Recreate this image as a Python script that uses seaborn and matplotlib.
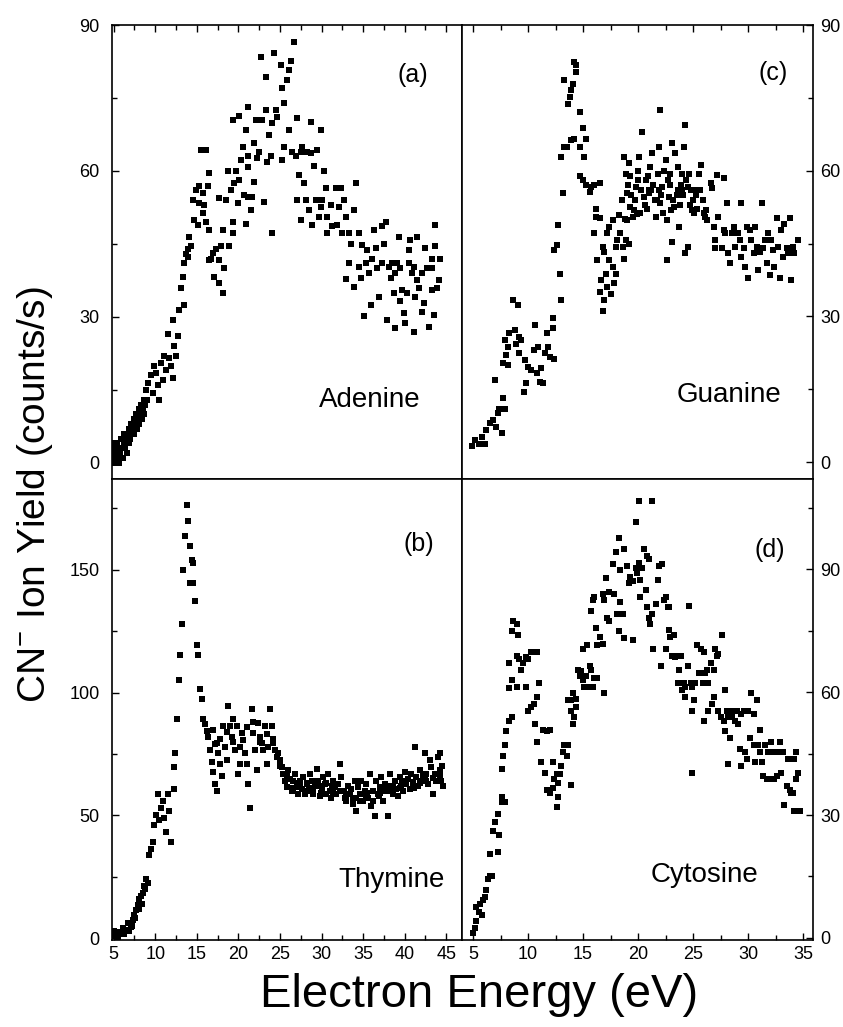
import matplotlib
matplotlib.use("Agg")
import matplotlib.pyplot as plt
from matplotlib.ticker import MultipleLocator
import pandas as pd
import seaborn as sns

# CN- ion yield vs. incident electron energy for the four nucleobases
adenine_energy = [
    4.8, 4.9, 5.0, 5.1, 5.2, 5.3, 5.4, 5.5, 5.6, 5.7, 5.8, 5.9, 6.0, 6.1, 6.2, 6.3, 6.4, 6.5, 6.6, 6.7,
    6.8, 6.9, 7.0, 7.1, 7.2, 7.3, 7.4, 7.5, 7.6, 7.7, 7.8, 7.9, 8.0, 8.1, 8.2, 8.3, 8.4, 8.5, 8.6, 8.7,
    8.8, 8.9, 9.0,
    9.1, 9.7, 10.1, 10.7, 11.3, 11.7, 12.1, 11.5, 12.7, 12.1,
    12.9, 13.5, 13.1, 13.3, 13.5, 13.9, 14.3, 14.1, 14.5, 14.9,
    15.3, 15.7, 15.3, 15.7, 16.1, 16.5, 15.5, 16.1, 16.5, 16.5,
    16.9, 17.1, 17.7, 18.1, 17.7, 17.9, 18.1, 17.7, 18.5, 18.7,
    18.9, 19.3, 19.3, 19.5, 19.9, 20.1, 20.3, 20.5, 19.3, 20.1,
    21.1, 20.9, 21.1, 21.1, 21.1, 21.7, 21.5, 20.9, 21.9, 21.9,
    22.3, 22.1, 22.7, 22.9, 23.1, 23.3, 23.3, 23.5, 23.7, 24.1,
    24.3, 24.1, 24.5, 25.1, 25.3, 25.5, 25.5, 25.3, 25.9, 26.1,
    26.3, 26.7, 26.1, 26.5, 27.1, 27.1, 27.3, 27.5, 27.7, 27.9,
    28.1, 28.7, 28.7, 28.5, 28.9, 29.3, 29.5, 29.9, 30.3, 29.9,
    29.7, 30.5, 30.7, 30.7, 31.3, 31.7, 32.1, 32.3, 32.5, 32.7,
    32.9, 33.3, 33.9, 34.1, 32.9, 33.3, 33.9, 34.5, 34.9, 34.5,
    35.1, 35.5, 35.7, 35.9, 36.1, 36.3, 36.5, 36.9, 37.3, 37.7,
    37.3, 38.1, 37.9, 38.5, 38.7, 38.9, 38.9, 39.3, 39.5, 39.7,
    39.9, 40.1, 40.5, 40.5, 40.7, 41.1, 41.1, 41.5, 41.5, 41.7,
    42.1, 42.3, 42.5, 42.9, 43.3, 43.3, 43.3, 43.5, 43.7, 43.7, 44.1,
    9.5, 9.9, 10.3, 10.5, 10.9, 11.1, 11.9, 12.3, 12.5, 13.7,
    14.0, 14.7, 15.1, 15.9, 16.3, 16.7, 17.3, 18.3, 19.1, 19.7,
    20.7, 22.5, 23.9, 24.7, 26.9, 27.5, 28.3, 29.1, 30.1, 31.1,
    31.9, 33.5, 34.7, 35.3, 36.7, 37.5, 38.3, 39.1, 40.3, 41.3,
    42.7, 43.9, 44.3, 42.1, 40.9, 39.5,
]
adenine_yield = [
    2, 4, 1, 3, 0, 2, 4, 1, 3, 0, 2, 5, 3, 1, 4, 6, 3, 5, 2, 6,
    4, 7, 5, 8, 6, 7, 9, 6, 8, 10, 7, 9, 11, 8, 10, 12, 9, 11, 13, 10,
    12, 15, 13,
    16.4, 14.3, 18.4, 20.5, 19, 21.5, 17.4, 26.6, 26, 29.4,
    31.4, 32.5, 35.9, 38.3, 41, 42.4, 44.5, 46.5, 54, 56,
    57, 55.4, 53.4, 51.3, 49.6, 47.9, 64.3, 64.3, 59.5, 41.7,
    43.1, 38.3, 36.9, 34.9, 41.7, 44.5, 47.9, 54.4, 54, 59.9,
    44.5, 47.2, 49.6, 57.5, 53.4, 58.2, 62.3, 65, 70.5, 71.2,
    73.2, 68.4, 63, 60.9, 54.7, 54.7, 52, 49.2, 57.8, 65.7,
    62.6, 70.5, 83.5, 70.5, 53.7, 79.4, 72.5, 61.9, 67.4, 47.2,
    84.2, 69.8, 72.5, 81.8, 77, 73.9, 65, 62.3, 78.7, 80.8,
    82.5, 86.6, 68.4, 64, 70.8, 54, 59.2, 49.9, 65, 57.5,
    54, 70.1, 63.6, 52, 48.9, 54, 64.3, 68.4, 59.9, 52.7,
    50.6, 56.4, 50.6, 47.2, 48.6, 56.4, 52.7, 56.4, 47.2, 54,
    50.6, 47.2, 52, 57.5, 37.9, 41, 36.2, 47.2, 44.8, 40.3,
    30.1, 43.8, 39, 32.5, 42, 47.9, 44.1, 34.2, 48.6, 49.6,
    41, 40.3, 29.4, 41, 34.9, 27.7, 39, 46.5, 33.2, 35.5,
    30.8, 28.7, 43.8, 41, 45.8, 40.3, 27, 46.5, 37.6, 35.9,
    31.1, 32.9, 44.1, 28, 42, 35.5, 40, 30.4, 44.5, 48.9, 37.6,
    18, 20, 16, 13, 17, 22, 20, 24, 22, 43,
    44, 50, 49, 53, 57, 42, 44, 40, 56, 60,
    55, 64, 63, 71, 63, 64, 64, 61, 54, 53,
    49, 45, 38, 41, 40, 45, 38, 41, 35, 34,
    40, 36, 42, 39, 39, 40,
]

thymine_energy = [
    4.9, 5.3, 5.7, 6.1, 6.5, 6.7, 7.1, 7.3, 7.5, 7.7, 7.9, 8.1, 8.3, 8.5, 8.7, 8.9, 9.1,
    5.0, 5.5, 5.9, 6.3, 6.9, 7.2, 7.6, 8.0, 8.4, 8.8,
    9.3, 9.5, 9.7, 9.9, 10.1, 10.3, 10.5, 10.7, 10.9, 11.1,
    11.3, 11.7, 11.9, 11.5, 12.2, 12.2, 12.4, 12.6, 12.8, 13.0,
    13.2, 13.4, 13.6, 13.8, 14.0, 14.2, 14.4, 14.2, 14.6, 14.8,
    14.6, 15.0, 15.2, 15.4, 15.6, 15.8, 16.0, 16.2, 16.4, 16.6,
    16.8, 17.0, 17.2, 17.4, 17.0, 17.4, 17.6, 17.8, 18.0, 18.2,
    18.4, 18.6, 18.8, 19.0, 19.2, 19.4, 19.6, 19.8, 20.0, 20.2,
    20.4, 20.6, 20.8, 21.0, 21.2, 21.4, 21.6, 21.8, 22.0, 22.2,
    22.4, 22.6, 22.8, 23.0, 23.2, 23.4, 23.6, 23.8, 24.0, 24.2,
    24.4, 24.6, 24.8, 25.0, 25.2, 25.4, 25.6, 25.8, 26.0, 26.2,
    26.4, 26.6, 26.8, 27.0, 27.2, 27.4, 27.6, 27.8, 28.0, 28.2,
    28.4, 28.6, 28.8, 29.0, 29.2, 29.4, 29.6, 29.8, 30.0, 30.2,
    30.4, 30.6, 30.8, 31.0, 31.2, 31.4, 31.6, 31.8, 32.0, 32.2,
    32.4, 32.6, 32.8, 33.0, 33.2, 33.4, 33.6, 33.8, 34.0, 34.2,
    34.4, 34.6, 34.8, 35.0, 35.2, 35.4, 35.6, 35.8, 36.0, 36.2,
    36.4, 36.6, 36.8, 37.0, 37.2, 37.4, 37.6, 37.8, 38.0, 38.2,
    38.4, 38.6, 38.8, 39.0, 39.2, 39.4, 39.6, 39.8, 40.0, 40.2,
    40.4, 40.6, 40.8, 41.0, 41.2, 41.4, 41.6, 41.8, 42.0, 42.2,
    42.4, 42.6, 42.8, 43.0, 43.2, 43.4, 43.6, 43.8, 44.0, 44.2, 44.4, 44.6, 44.2,
    17.2, 17.8, 18.6, 19.4, 20.2, 21.0, 21.8, 22.6, 23.4, 24.2, 25.0, 25.8, 26.6, 27.4, 28.2, 29.0, 29.8,
    30.6, 31.4, 32.2, 33.0, 33.8, 34.6, 35.4, 36.2, 37.0, 37.8, 38.6, 39.4, 40.2, 41.0, 41.8, 42.6, 43.4, 44.2,
    27.1, 28.5, 29.9, 31.3, 32.7, 34.1, 35.5, 36.9, 38.3, 39.7, 41.1, 42.5, 43.9, 44.5,
]
thymine_yield = [
    1, 2.5, 1.8, 3.9, 3.2, 6, 4.6, 7.3, 9.4, 11.5, 13.6, 15.7, 17, 18.4, 21.2, 24, 22.6,
    3, 0.5, 2.5, 1.5, 3, 5, 8, 12, 14, 20,
    33.7, 36.4, 39.2, 46.1, 50.3, 58.6, 48.2, 53, 55.8, 48.9,
    43.4, 51.7, 39.2, 58.6, 60.7, 69.7, 75.2, 89.1, 105, 115.4,
    127.8, 150, 163.8, 176.3, 170, 159.7, 154.2, 144.5, 152.8, 137.5,
    144.5, 119.5, 115.4, 101.5, 97.4, 89.1, 87, 84.2, 82.1, 76.6,
    71.7, 67.6, 62.7, 60, 84.9, 79.4, 75.2, 71, 66.2, 86.3,
    78, 72.4, 94.6, 86.3, 82.1, 89.1, 76.6, 86.3, 66.9, 71,
    83.5, 80.8, 75.2, 71, 62.7, 53, 93.2, 83.5, 76.6, 68.3,
    87.7, 82.1, 79.4, 76.6, 86.3, 71, 78, 93.2, 86.3, 79.4,
    76.6, 73.8, 75.2, 72.4, 69.7, 66.9, 64.1, 61.4, 68.3, 64.8,
    60, 64.1, 66.9, 61.4, 58.6, 64.1, 60.7, 65.5, 58.6, 62.7,
    60, 66.9, 64.1, 58.6, 62, 69, 64.1, 57.9, 60.7, 65.5,
    62.7, 58.6, 66.9, 60, 57.2, 64.1, 61.4, 58.6, 62.7, 71,
    65.5, 60, 57.2, 55.8, 62, 58.6, 60.7, 54.4, 64.1, 51.7,
    61.4, 58.6, 64.1, 55.8, 60, 62.7, 57.2, 66.9, 53.7, 60,
    49.6, 64.1, 58.6, 61.4, 65.5, 55.8, 62.7, 60, 49.6, 66.9,
    62, 58.6, 64.1, 60.7, 57.9, 65.5, 62, 60, 67.6, 62.7,
    64.8, 60.7, 66.9, 63.4, 78, 65.5, 62, 68.3, 64.1, 66.2,
    75.2, 66.9, 62.7, 72.4, 69.7, 58.6, 66.9, 64.1, 73.8, 68.3, 64.1, 62, 75.2,
    79, 81, 84, 80, 78, 86, 88, 80, 83, 81, 70, 66, 61, 62, 63, 60, 62,
    63, 59, 60, 58, 57, 56, 58, 56, 59, 61, 62, 61, 63, 62, 63, 64, 65, 66,
    63, 61, 59, 62, 60, 57, 59, 58, 60, 64, 61, 65, 67, 70,
]

guanine_energy = [
    4.9, 5.2, 5.5, 5.8, 6.1, 6.2, 6.5, 6.8, 7.1, 7.3, 7.6, 7.4, 7.7, 7.9, 7.0, 7.7, 8.2, 7.9, 8.3, 8.6,
    8.8, 9.1, 9.2, 8.9, 9.4, 9.2, 8.0, 8.2, 9.7, 10.0,
    9.8, 10.3, 10.5, 10.6, 10.8, 10.9, 11.2, 11.1, 11.4, 11.7,
    11.5, 11.8, 12.0, 12.4, 12.3, 12.3, 9.6, 12.4, 12.6, 12.7,
    12.9, 13.0, 13.2, 13.0, 13.3, 13.3, 13.6, 13.8, 13.9, 14.1,
    14.2, 14.4, 14.4, 13.5, 13.9, 14.2, 14.7, 15.0, 15.3, 14.7,
    15.1, 14.7, 15.0, 15.3, 15.6, 15.7, 16.0, 16.5, 16.2, 16.0,
    16.2, 16.5, 16.3, 16.8, 16.9, 16.5, 16.8, 16.6, 16.9, 17.1,
    17.2, 17.4, 17.5, 17.2, 17.4, 17.7, 17.7, 17.8, 18.0, 18.0,
    18.1, 18.3, 18.4, 18.6, 18.7, 18.9, 19.0, 19.2, 18.7, 18.9,
    19.2, 19.3, 19.0, 19.3, 19.5, 19.7, 19.8, 20.0, 20.1, 20.4,
    20.2, 20.5, 20.7, 20.8, 21.0, 21.1, 21.3, 21.5, 21.6, 21.8,
    21.9, 22.0, 21.9, 22.0, 22.2, 22.3, 22.5, 22.6, 22.6, 22.8,
    22.9, 23.1, 23.1, 23.3, 23.4, 23.6, 23.6, 23.7, 23.9, 24.0,
    24.2, 24.3, 24.3, 24.5, 24.5, 24.6, 24.8, 24.9, 25.1, 25.2,
    25.4, 25.5, 25.7, 25.9, 26.0, 26.1, 26.3, 26.6, 26.7, 26.9,
    27.0, 27.0, 27.2, 27.3, 27.6, 27.8, 27.8, 27.9, 28.1, 28.2,
    28.4, 28.5, 28.7, 28.8, 29.1, 29.3, 29.4, 29.4, 29.6, 29.7,
    29.9, 30.0, 30.2, 30.3, 30.5, 30.6, 30.8, 30.9, 31.1, 31.3,
    31.4, 31.5, 31.7, 31.8, 32.0, 32.1, 32.3, 32.4, 32.6, 32.7,
    32.9, 33.0, 33.2, 33.3, 33.5, 33.6, 33.8, 33.9, 34.1, 34.2, 34.5,
    18.5, 19.1, 19.6, 20.3, 20.9, 21.4, 22.1, 22.7, 23.2, 23.8,
    24.4, 25.0, 25.6, 26.2, 18.8, 19.9, 21.2, 22.4, 23.5, 24.7,
    19.4, 20.6, 21.7, 22.9, 24.1, 25.3, 20.0, 21.0, 23.0, 24.0,
]
guanine_yield = [
    3.2, 4.5, 3.8, 5.2, 3.8, 6.6, 8, 8.6, 7.3, 10, 5.9, 11, 13.1, 11, 16.9, 20.3, 20, 25.1, 26.5, 33.4,
    27.2, 32.3, 25.8, 24.4, 25.1, 22.4, 22, 23.7, 21, 19.6,
    16.2, 18.9, 23.1, 28.2, 18.3, 23.7, 19.3, 16.5, 16.2, 26.5,
    22.4, 23.7, 21.7, 21.3, 27.5, 29.6, 14.5, 43.7, 44.7, 48.8,
    38.8, 33.4, 55.3, 62.9, 64.9, 78.7, 73.8, 75.2, 76.6, 77.9,
    82.4, 80.3, 81.7, 64.9, 66.3, 66.6, 64.9, 68.7, 66.6, 72.1,
    62.9, 58.8, 58.1, 57, 55.7, 56.7, 57, 57.4, 52.2, 47.1,
    50.5, 50.2, 41.6, 44.3, 43.3, 35.1, 31, 37.5, 33.4, 38.8,
    36.1, 41.6, 34.7, 47.1, 48.5, 49.8, 40.2, 36.8, 38.8, 44.3,
    45.7, 50.9, 47.1, 44.3, 41.9, 45.7, 49.8, 45, 62.9, 59.4,
    61.5, 58.8, 55.3, 52.6, 50.5, 53.9, 56.7, 60, 62.9, 68,
    51.2, 54.6, 58.1, 52.2, 55.3, 60.8, 63.6, 53.9, 50.5, 59.4,
    64.9, 72.5, 56, 53.3, 56.7, 51.2, 62.2, 49.8, 41.6, 54.6,
    59.4, 65.6, 45.4, 52.6, 63.6, 56, 60.8, 48.5, 57, 59.4,
    64.9, 69.4, 43, 56.7, 44.3, 59.4, 56, 51.9, 51.2, 56,
    52.2, 59.4, 61.2, 53.9, 51.2, 50.5, 49.8, 57.4, 56.4, 48.5,
    44, 45.7, 59.1, 50.5, 44, 58.4, 47.8, 47.1, 53.3, 43,
    40.9, 47.1, 48.5, 44.3, 47.1, 45.7, 53.3, 42.3, 44, 40.2,
    48.5, 37.8, 47.8, 45.7, 43, 48.5, 44.3, 39.5, 43.3, 53.3,
    44, 45.7, 40.9, 47.1, 38.5, 45.7, 43.7, 40.2, 50.2, 44.3,
    37.8, 47.8, 42.3, 49.1, 44, 43, 50.2, 37.5, 44.3, 43, 45.7,
    54, 57, 52, 56, 59, 57, 55, 58, 54, 53,
    58, 54, 56, 52, 50, 51, 56, 60, 55, 53,
    55, 53, 54, 57, 55, 55, 58, 56, 52, 56,
]

cytosine_energy = [
    5.0, 5.2, 5.3, 5.5, 5.3, 5.6, 5.9, 6.1, 5.8, 6.2,
    6.4, 6.5, 6.7, 6.5, 6.8, 7.0, 7.3, 7.4, 7.3, 7.6,
    7.6, 7.9, 7.6, 7.7, 7.9, 8.0, 8.3, 8.5, 8.3, 8.5,
    8.3, 8.5, 8.6, 9.0, 9.1, 9.0, 9.2, 9.4, 9.5, 9.8,
    10.0, 10.3, 10.8, 9.0, 9.8, 10.0, 10.3, 10.5, 10.8, 11.0,
    10.6, 10.8, 11.4, 11.7, 12.0, 11.2, 11.5, 11.7, 12.0, 12.3,
    12.4, 12.6, 12.7, 12.9, 12.3, 12.6, 12.7, 13.0, 13.2, 13.3,
    13.5, 13.6, 13.9, 14.1, 14.2, 13.6, 13.9, 14.1, 14.4, 14.4,
    13.9, 14.5, 14.7, 14.8, 15.0, 15.1, 15.3, 15.4, 15.6, 15.7,
    15.9, 16.0, 16.3, 16.9, 15.0, 15.4, 15.7, 15.9, 16.0, 16.2,
    16.3, 16.5, 16.8, 16.9, 16.8, 17.4, 17.8, 17.1, 17.2, 17.4,
    17.7, 18.0, 18.1, 18.3, 18.4, 18.6, 18.7, 18.3, 18.4, 18.7,
    19.0, 19.2, 19.3, 19.5, 19.5, 19.8, 20.1, 19.8, 19.9, 20.1,
    20.2, 20.4, 20.5, 20.2, 20.7, 20.8, 21.0, 20.8, 21.0, 21.1,
    21.3, 21.4, 21.3, 21.6, 21.8, 21.9, 22.1, 22.2, 22.4, 22.5,
    22.7, 22.8, 22.5, 22.8, 22.9, 23.1, 23.3, 23.4, 23.6, 23.7,
    23.9, 23.6, 23.9, 24.0, 24.2, 24.3, 24.5, 24.3, 24.6, 24.8,
    24.9, 24.9, 24.9, 25.1, 25.2, 25.4, 25.5, 25.7, 25.9, 26.0,
    26.0, 26.1, 26.3, 26.4, 26.4, 26.6, 26.7, 26.9, 26.9, 27.0,
    27.2, 27.3, 27.6, 27.3, 27.5, 27.8, 27.9, 27.9, 28.1, 28.2,
    28.2, 28.4, 28.5, 28.5, 28.8, 29.0, 29.1, 29.3, 29.4, 29.4,
    29.6, 29.7, 29.9, 30.0, 30.2, 30.3, 30.5, 30.5, 30.6, 30.8,
    30.9, 31.1, 31.1, 31.3, 31.4, 31.5, 31.7, 31.8, 32.0, 32.1,
    32.3, 32.4, 32.6, 32.7, 32.9, 33.0, 33.2, 33.3, 33.5, 33.6,
    33.8, 33.9, 34.1, 34.2, 34.4, 34.5, 34.2, 34.7, 34.4,
]
cytosine_yield = [
    1.3, 2.5, 4.2, 6.3, 7.6, 8.4, 9.2, 10.1, 5.5, 11.8,
    14.3, 15.1, 15.1, 20.6, 26.1, 28.2, 21, 25.2, 30.3, 34.5,
    33.2, 33.2, 41.2, 44.5, 47.1, 50.4, 52.9, 53.8, 60.9, 63,
    67.2, 74.8, 77.3, 76.5, 73.9, 68.9, 68.1, 65.5, 67.2, 68.5,
    68.1, 69.7, 69.7, 61.3, 61.3, 55.5, 56.3, 57.1, 58.8, 62.2,
    52.1, 47.9, 50.8, 50.4, 50.8, 42.9, 40.3, 36.1, 35.3, 36.6,
    38.7, 39.9, 37.8, 39.9, 42.9, 31.9, 34.5, 42, 45.4, 47.1,
    44.5, 47.1, 37.4, 52.1, 53.8, 58, 58, 59.7, 56.3, 58.4,
    55.5, 65.5, 63.9, 65.1, 63, 61.3, 63.9, 61.3, 66.4, 65.5,
    61.3, 63.4, 63.4, 59.7, 70.6, 71.4, 79.8, 82.4, 83.2, 75.6,
    71.4, 73.5, 71.8, 82.4, 84, 84.5, 84, 87.8, 78.2, 77.3,
    91.2, 94.1, 79, 74.8, 81.9, 79, 73.1, 97.5, 89.9, 95,
    90.8, 86.6, 88.2, 72.7, 87, 101.5, 106.7, 90.3, 89.1, 91.6,
    87.4, 90.3, 95, 83.2, 84.9, 93.3, 92.4, 80.7, 78.2, 76.5,
    106.7, 70.6, 79, 81.5, 87.4, 90.8, 66.4, 91.2, 82.4, 83.2,
    80.7, 80.7, 70.6, 75.2, 73.5, 68.9, 74, 68.5, 68.9, 65.5,
    68.9, 62.2, 62.2, 60.5, 62.2, 61.3, 66.4, 58.8, 81.1, 62.2,
    61.3, 55.5, 40.3, 58, 62.2, 71.4, 64.7, 70.6, 62.2, 69.7,
    52.9, 64.7, 65.5, 62.2, 55.5, 67.2, 57.1, 58.8, 65.5, 70.6,
    68.9, 69.3, 74, 55.5, 53.8, 52.9, 60.5, 50.4, 55.5, 53.8,
    42.4, 48.7, 55.5, 53.8, 52.9, 55.5, 52.1, 46.2, 54.6, 42,
    55.5, 45.4, 43.7, 55.5, 48.7, 59.7, 47.1, 54.6, 42.9, 58,
    47.1, 50.8, 45.4, 42.9, 39.5, 47.1, 38.7, 45.4, 38.7, 47.9,
    45.4, 38.7, 39.5, 45.4, 47.9, 40.3, 45.4, 32.4, 37, 43.7,
    36.1, 35.3, 35.3, 43.7, 38.7, 40.3, 31.1, 31.1, 45.4,
]

panel_tags = ["(a)", "(b)", "(c)", "(d)"]
molecule_names = ["Adenine", "Thymine", "Guanine", "Cytosine"]
x_label = "Electron Energy (eV)"
y_label = "CN$^{-}$ Ion Yield (counts/s)"

sns.set_style("ticks")
plt.rcParams["font.family"] = ["Liberation Sans", "DejaVu Sans"]
plt.rcParams["mathtext.fontset"] = "custom"
plt.rcParams["mathtext.rm"] = "Liberation Sans"
plt.rcParams["mathtext.it"] = "Liberation Sans"
plt.rcParams["axes.linewidth"] = 1.2
plt.rcParams["text.color"] = "black"
plt.rcParams["axes.labelcolor"] = "black"
plt.rcParams["xtick.color"] = "black"
plt.rcParams["ytick.color"] = "black"

W, H = 843, 1027
fig = plt.figure(figsize=(W / 100, H / 100), dpi=100)


def box(left, top, right, bottom):
    return [left / W, 1 - bottom / H, (right - left) / W, (bottom - top) / H]


ax_a = fig.add_axes(box(112, 25, 462, 479))
ax_c = fig.add_axes(box(462, 25, 813, 479))
ax_b = fig.add_axes(box(112, 479, 462, 940))
ax_d = fig.add_axes(box(462, 479, 813, 940))

panels = [
    # axis, energies, yields, tag, name, xlim, ylim, y major, top row, right column,
    # tag position, name position
    (ax_a, adenine_energy, adenine_yield, panel_tags[0], molecule_names[0],
     (4.8, 46.9), (-3.3, 90), 30, True, False, (0.86, 0.89), (0.737, 0.174)),
    (ax_b, thymine_energy, thymine_yield, panel_tags[1], molecule_names[1],
     (4.8, 46.9), (-0.8, 187), 50, False, False, (0.877, 0.859), (0.80, 0.13)),
    (ax_c, guanine_energy, guanine_yield, panel_tags[2], molecule_names[2],
     (4.0, 35.9), (-3.5, 90), 30, True, True, (0.886, 0.894), (0.76, 0.185)),
    (ax_d, cytosine_energy, cytosine_yield, panel_tags[3], molecule_names[3],
     (4.0, 35.9), (-0.5, 112), 30, False, True, (0.877, 0.846), (0.692, 0.141)),
]

for (ax, energy, ion_yield, tag, name, xlim, ylim, ymajor, top_row, right_col,
     tag_pos, name_pos) in panels:
    df = pd.DataFrame({"energy": energy, "yield": ion_yield})
    sns.scatterplot(data=df, x="energy", y="yield", ax=ax, marker="s", s=20,
                    color="black", linewidth=0, legend=False)
    ax.set_xlim(*xlim)
    ax.set_ylim(*ylim)
    ax.set_xlabel("")
    ax.set_ylabel("")
    ax.xaxis.set_major_locator(MultipleLocator(5))
    ax.xaxis.set_minor_locator(MultipleLocator(2.5))
    ax.yaxis.set_major_locator(MultipleLocator(ymajor))
    ax.yaxis.set_minor_locator(MultipleLocator(ymajor / 2))
    for side in ["top", "right", "bottom", "left"]:
        ax.spines[side].set_visible(True)
        ax.spines[side].set_linewidth(1.2)
        ax.spines[side].set_color("black")
    ax.tick_params(axis="both", which="both", direction="in", color="black",
                   labelsize=13, width=1.0, labelcolor="black")
    ax.tick_params(which="major", length=5)
    ax.tick_params(which="minor", length=3.5)
    # x ticks: along the top edge of the upper row, labelled along the bottom row
    ax.tick_params(axis="x", which="both", top=top_row, bottom=not top_row,
                   labeltop=False, labelbottom=not top_row, pad=4)
    # y ticks: outer edge only
    if right_col:
        ax.yaxis.tick_right()
        ax.tick_params(axis="y", which="both", left=False, right=True,
                       labelleft=False, labelright=True, pad=5)
    else:
        ax.tick_params(axis="y", which="both", left=True, right=False,
                       labelleft=True, labelright=False, pad=9)
    ax.text(*tag_pos, tag, transform=ax.transAxes, ha="center", va="center",
            fontsize=18)
    ax.text(*name_pos, name, transform=ax.transAxes, ha="center", va="center",
            fontsize=20)

fig.text(479 / W, 1 - 995 / H, x_label, ha="center", va="center", fontsize=34)
fig.text(35 / W, 1 - 495 / H, y_label, ha="center", va="center", rotation=90,
         fontsize=28)

fig.savefig("out.png", dpi=100)
